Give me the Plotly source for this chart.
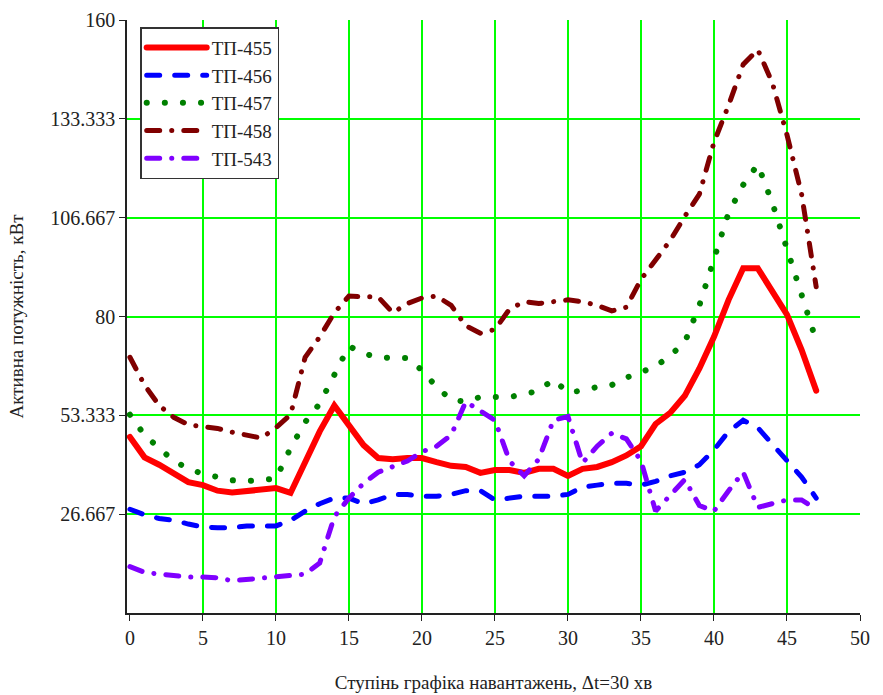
import plotly.graph_objects as go

steps = list(range(48))

tp455 = [47.5, 42, 40, 37.5, 35.3, 34.5, 33, 32.5, 33, 33.3, 33.7, 32.4, 41, 49, 56, 50.5, 45.3, 41.8, 41.5, 41.8, 41.8, 40.7, 39.7, 39.4, 37.8, 38.6, 38.6, 37.8, 38.9, 38.9, 37, 38.9, 39.4, 40.7, 42.5, 45, 51, 54, 58.6, 66, 74.5, 84.5, 93, 93, 87, 80.5, 71, 60]
tp456 = [28, 26.5, 25.5, 25, 24, 23.2, 23, 23, 23.5, 23.5, 23.5, 25, 27.5, 29.5, 31, 31, 29.5, 30.5, 32, 32, 31.5, 31.5, 32, 33, 33, 30.5, 31, 31.5, 31.5, 31.5, 32, 34, 34.5, 35, 35, 34.5, 35.5, 37, 38, 40, 44, 49, 52, 50, 45.5, 41, 36.7, 31]
tp457 = [53.5, 48, 44.5, 41, 39, 37.5, 36.7, 35.8, 35.6, 35.8, 36.2, 44.5, 51.5, 56.5, 64, 72, 70, 69, 68.8, 68.8, 65.5, 61, 57.5, 57, 58.3, 58.3, 58.3, 59, 60, 63, 59.5, 60, 61, 61.5, 63.5, 65, 66.5, 69.5, 73, 83, 95, 108, 115.5, 121, 110.6, 98, 85, 73.5]
tp458 = [69, 61.5, 56, 52.8, 50.8, 50.2, 49.8, 48.8, 48, 47.2, 50, 53.5, 69, 74.5, 81, 85.5, 85.3, 85.3, 81, 83.5, 85, 85.5, 83, 77.5, 75.5, 76.5, 82, 84, 83.5, 84, 84.5, 84, 83, 81.5, 82.5, 90, 95, 100.5, 107, 113, 127, 137, 148, 152, 143, 129, 113, 88]
tp543 = [12.5, 11, 10.5, 10, 9.7, 9.7, 9.5, 8.7, 9, 9.4, 9.7, 10, 10.5, 13.5, 26, 31, 35, 38, 39.5, 41, 43.5, 45, 48, 57, 54.5, 52, 41, 37, 41.5, 52, 53, 40.5, 45, 48.5, 47, 41, 27.5, 32, 36, 29, 27.5, 33, 38, 28.5, 29.5, 30.5, 30.5, 28]

names = ["ТП-455", "ТП-456", "ТП-457", "ТП-458", "ТП-543"]
series = [tp455, tp456, tp457, tp458, tp543]
colors = ["#ff0000", "#0000ff", "#008000", "#800000", "#8000ff"]
widths = [6, 5, 6, 5, 5]
dashes = ["solid", "13px,15px", "0.1px,18px", "13px,12px,0.1px,12px", "13px,12px,0.1px,12px"]

y_ticks = [26.667, 53.333, 80, 106.667, 133.333, 160]
y_ticktext = ["26.667", "53.333", "80", "106.667", "133.333", "160"]
x_ticks = list(range(0, 51, 5))

fig = go.Figure()
for n, s, c, w, d in zip(names, series, colors, widths, dashes):
    fig.add_trace(go.Scatter(x=steps, y=s, name=n, mode="lines",
                             line=dict(color=c, width=w, dash=d)))

font_family = "Liberation Serif"
fig.update_layout(
    width=883, height=695,
    margin=dict(l=127, r=23, t=20, b=82, autoexpand=False),
    paper_bgcolor="white", plot_bgcolor="white",
    font=dict(family=font_family, size=20, color="#222"),
    showlegend=True,
    legend=dict(x=0.018, y=0.988, xanchor="left", yanchor="top",
                bgcolor="white", bordercolor="#333", borderwidth=1.5,
                font=dict(family=font_family, size=19, color="#222"),
                tracegroupgap=0, itemwidth=60, entrywidth=148, entrywidthmode="pixels"),
)
fig.update_xaxes(
    range=[-0.2, 50], tickmode="array", tickvals=x_ticks,
    showgrid=False, zeroline=False, automargin=False,
    minor=dict(tickvals=x_ticks[1:], showgrid=True, gridcolor="#00ff00", gridwidth=1.5, ticks=""),
    showline=True, linecolor="#222", linewidth=1.5,
    ticks="outside", ticklen=6, tickcolor="#222",
    title=dict(text="Ступінь графіка навантажень, Δt=30 хв", standoff=28,
               font=dict(family=font_family, size=19, color="#222")),
)
fig.update_yaxes(
    range=[0, 160], tickmode="array", tickvals=y_ticks, ticktext=y_ticktext,
    showgrid=True, gridcolor="#00ff00", gridwidth=1.5, zeroline=False, automargin=False,
    showline=True, linecolor="#222", linewidth=1.5,
    ticks="outside", ticklen=6, tickcolor="#222",
    title=dict(text="Активна потужність, кВт", standoff=22,
               font=dict(family=font_family, size=19, color="#222")),
)

post = """
document.body.style.margin='0';
var s=document.createElement('style');
s.innerHTML='body{margin:0;} .scatterlayer .js-line, .legendlines path {stroke-linecap: round;}';
document.head.appendChild(s);
"""
fig.write_html("out.html", post_script=post, config={"displayModeBar": False})
